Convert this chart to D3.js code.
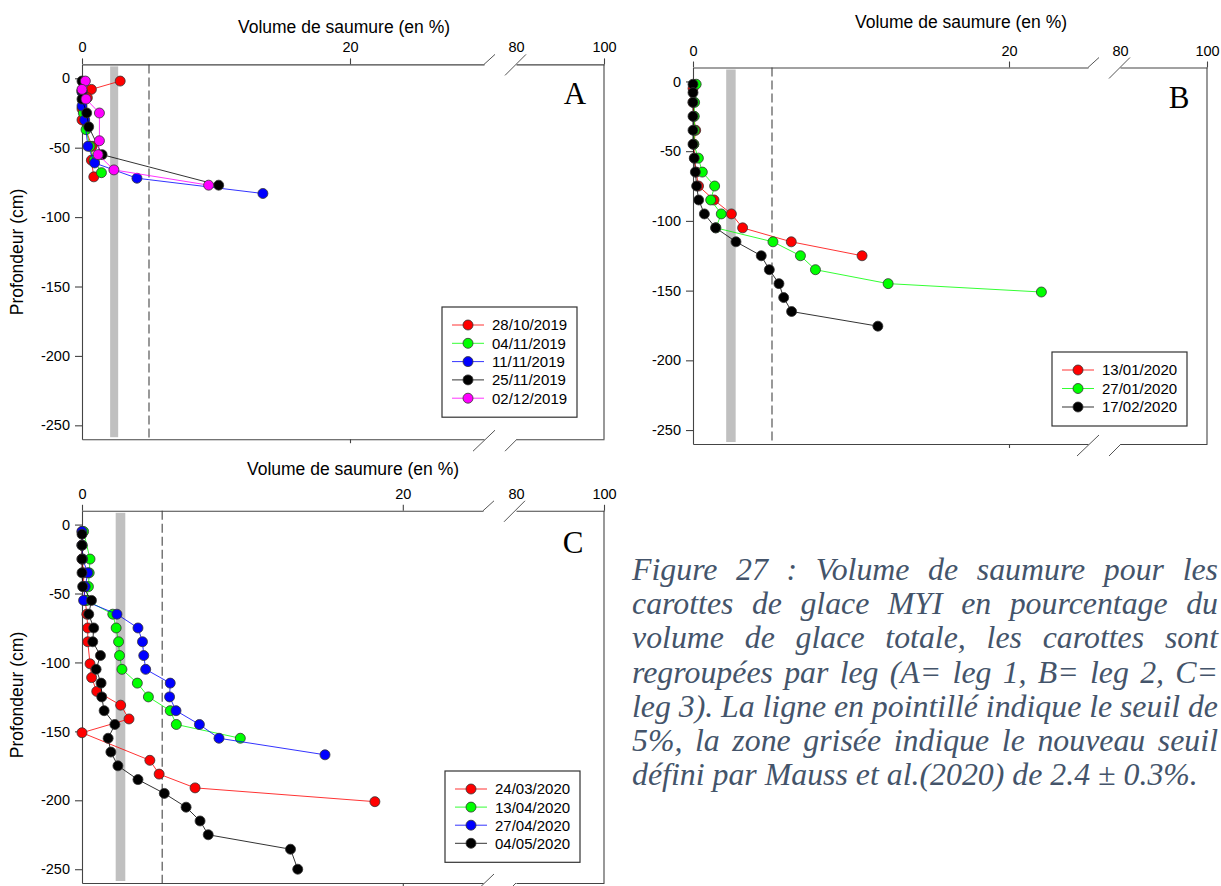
<!DOCTYPE html>
<html>
<head>
<meta charset="utf-8">
<script src="https://cdn.jsdelivr.net/npm/d3@7"></script>
<style>
  body { margin: 0; background: #fff; }
  svg { display: block; font-family: "Liberation Sans", Arial, sans-serif; }
</style>
</head>
<body>
<svg id="fig" width="1221" height="886"></svg>
<script>
// [volume de saumure %, profondeur cm]

// leg 1 (A)
const a_28_10_2019 = [[2.85,-2],[0.7,-8],[0.4,-14],[0,-22],[0,-30],[0.75,-49],[0.7,-59],[0.88,-71]];
const a_04_11_2019 = [[0.1,-3],[0,-9],[0.05,-16],[0.1,-25],[0.3,-37],[0.6,-49],[0.9,-59],[1.45,-68]];
const a_11_11_2019 = [[0,-10],[0,-20],[0.2,-30],[0.44,-49],[0.94,-61],[4.1,-72],[13.5,-83]];
const a_25_11_2019 = [[0,-2],[0,-9],[0,-15],[0.35,-25],[0.5,-35],[1.5,-55],[10.2,-77]];
const a_02_12_2019 = [[0.25,-2],[0,-8],[0.3,-15],[1.3,-25],[1.3,-45],[1.2,-55],[2.38,-66],[9.45,-77]];

// leg 2 (B)
const b_13_01_2020 = [[0,-5],[0,-15],[0.05,-25],[0.17,-35],[0.05,-45],[0.1,-55],[0.2,-65],[0.35,-75],[1.33,-85],[2.43,-95],[3.14,-105],[6.22,-115],[10.7,-125]];
const b_27_01_2020 = [[0.2,-2],[0.1,-15],[0.08,-25],[0.1,-35],[0.05,-45],[0.34,-55],[0.59,-65],[1.37,-75],[1.12,-85],[1.79,-95],[1.45,-105],[5.06,-115],[6.8,-125],[7.75,-135],[12.35,-145],[22.05,-151]];
const b_17_02_2020 = [[0,-2],[0,-8],[0,-15],[0,-25],[0,-35],[0,-45],[0.08,-55],[0.15,-65],[0.23,-75],[0.36,-85],[0.72,-95],[1.43,-105],[2.72,-115],[4.32,-125],[4.83,-135],[5.44,-145],[5.74,-155],[6.24,-165],[11.7,-175.5]];

// leg 3 (C)
const c_24_03_2020 = [[0,-5],[0,-15],[0,-25],[0.1,-35],[0.1,-45],[0.2,-55],[0.3,-65],[0.36,-75],[0.36,-85],[0.5,-101],[0.6,-111],[0.92,-121],[2.41,-131],[2.93,-141],[0,-151],[4.23,-171],[4.81,-181],[7.05,-191],[18.26,-201]];
const c_13_04_2020 = [[0.1,-5],[0.5,-25],[0.45,-35],[0.4,-45],[0.3,-55],[1.92,-65],[2.13,-75],[2.28,-85],[2.34,-95],[2.49,-105],[3.45,-115],[4.14,-125],[5.5,-135],[5.88,-145],[9.87,-155]];
const c_27_04_2020 = [[0,-5],[0,-15],[0.04,-25],[0.36,-35],[0.2,-45],[0.1,-55],[2.18,-65],[3.49,-75],[3.77,-85],[3.85,-95],[3.97,-105],[5.5,-115],[5.46,-125],[5.86,-135],[7.32,-145],[8.54,-155],[15.15,-167]];
const c_04_05_2020 = [[0,-7],[0,-15],[0,-25],[0,-35],[0.04,-45],[0.59,-55],[0.42,-65],[0.73,-75],[0.67,-85],[1.15,-95],[0.88,-105],[1.19,-115],[1.23,-125],[1.38,-135],[2.05,-145],[1.63,-155],[1.8,-165],[2.24,-175],[3.49,-185],[5.13,-195],[6.49,-205],[7.36,-215],[7.87,-225],[13.0,-235.5],[13.45,-250]];

const datesA = ["28/10/2019", "04/11/2019", "11/11/2019", "25/11/2019", "02/12/2019"];
const datesB = ["13/01/2020", "27/01/2020", "17/02/2020"];
const datesC = ["24/03/2020", "13/04/2020", "27/04/2020", "04/05/2020"];

const xTicksLow = [0, 20];
const xTicksHigh = [80, 100];
const yTicks = [0, -50, -100, -150, -200, -250];
const seuil = 5;
const nouveauSeuil = [2.1, 2.7]; // 2.4 +/- 0.3

const captionLines = [
  "Figure 27 : Volume de saumure pour les",
  "carottes de glace MYI en pourcentage du",
  "volume de glace totale, les carottes sont",
  "regroupées par leg (A= leg 1, B= leg 2, C=",
  "leg 3). La ligne en pointillé indique le seuil de",
  "5%, la zone grisée indique le nouveau seuil",
  "défini par Mauss et al.(2020) de 2.4 ± 0.3%."
];

const colA = ["#ff0000", "#00ff00", "#0000ff", "#000000", "#ff00ff"];
const colB = ["#ff0000", "#00ff00", "#000000"];
const colC = ["#ff0000", "#00ff00", "#0000ff", "#000000"];

const svg = d3.select("#fig");

const panels = [
  { letter: "A", series: [a_28_10_2019, a_04_11_2019, a_11_11_2019, a_25_11_2019, a_02_12_2019], dates: datesA, colors: colA,
    left: 82, right: 604, top: 64.4, bottom: 439.2, brk: 30, xBreak: 484, x2Start: 516,
    titleX: 344, titleY: 27, letterX: 575, letterY: 93, ylab: [17, 252], legend: [442, 307, 18.3] },
  { letter: "B", series: [b_13_01_2020, b_27_01_2020, b_17_02_2020], dates: datesB, colors: colB,
    left: 693, right: 1207, top: 67.5, bottom: 444, brk: 25, xBreak: 1088, x2Start: 1120,
    titleX: 961, titleY: 22, letterX: 1179, letterY: 97, ylab: null, legend: [1052, 352, 18.5] },
  { letter: "C", series: [c_24_03_2020, c_13_04_2020, c_27_04_2020, c_04_05_2020], dates: datesC, colors: colC,
    left: 82, right: 604, top: 510.8, bottom: 883, brk: 25, xBreak: 483, x2Start: 516,
    titleX: 353, titleY: 469, letterX: 573, letterY: 542, ylab: [17, 695], legend: [445, 771, 18.1] }
];

const axisCol = "#444";

panels.forEach(p => {
  const g = svg.append("g");
  const xs1 = d3.scaleLinear().domain([0, p.brk]).range([p.left, p.xBreak]);
  const xs2 = d3.scaleLinear().domain([80, 100]).range([p.x2Start, p.right]);
  const x = v => v <= p.brk ? xs1(v) : xs2(v);
  const y = d3.scaleLinear().domain([10, -260]).range([p.top, p.bottom]);

  // grey zone + dashed 5% line
  g.append("rect")
    .attr("x", x(nouveauSeuil[0])).attr("width", x(nouveauSeuil[1]) - x(nouveauSeuil[0]))
    .attr("y", p.top + 2).attr("height", p.bottom - p.top - 4)
    .attr("fill", "#c0c0c0");
  g.append("line")
    .attr("x1", x(seuil)).attr("x2", x(seuil))
    .attr("y1", p.top).attr("y2", p.bottom)
    .attr("stroke", "#555").attr("stroke-width", 1.2)
    .attr("stroke-dasharray", "9,4");

  // top axis (two pieces)
  const fmt = d => String(d);
  const top1 = g.append("g").attr("transform", `translate(0,${p.top})`)
    .call(d3.axisTop(xs1).tickValues(xTicksLow).tickSize(6).tickSizeOuter(0).tickPadding(6).tickFormat(fmt));
  const top2 = g.append("g").attr("transform", `translate(0,${p.top})`)
    .call(d3.axisTop(xs2).tickValues(xTicksHigh).tickSize(6).tickSizeOuter(0).tickPadding(6).tickFormat(fmt));
  top2.selectAll(".tick").filter(d => d === 80).select("line").remove();

  // bottom axis (two pieces)
  const bot1 = g.append("g").attr("transform", `translate(0,${p.bottom})`)
    .call(d3.axisBottom(xs1).tickValues([20]).tickSize(4).tickSizeOuter(0).tickFormat(""));
  const bot2 = g.append("g").attr("transform", `translate(0,${p.bottom})`)
    .call(d3.axisBottom(xs2).tickValues([]).tickSizeOuter(0));

  // left axis
  const yl = g.append("g").attr("transform", `translate(${p.left},0)`)
    .call(d3.axisLeft(y).tickValues(yTicks).tickSize(7).tickSizeOuter(0).tickPadding(5).tickFormat(fmt));

  [top1, top2, bot1, bot2, yl].forEach(a => {
    a.attr("font-family", null);
    a.selectAll("path, line").attr("stroke", axisCol).attr("stroke-width", 1.1);
    a.selectAll("text").attr("font-size", 14.5).attr("fill", "#000");
  });

  // right frame
  g.append("line").attr("x1", p.right).attr("x2", p.right)
    .attr("y1", p.top).attr("y2", p.bottom)
    .attr("stroke", axisCol).attr("stroke-width", 1.1);

  // axis break marks
  const bx = p.xBreak;
  const brk = [
    [bx, p.top, bx + 11, p.top - 10],
    [bx + 21, p.top + 11, bx + 42, p.top - 10],
    [bx - 11, p.bottom + 12, bx + 11, p.bottom - 9],
    [bx + 21, p.bottom + 12, bx + 33, p.bottom]
  ];
  g.selectAll(".brk").data(brk).join("line")
    .attr("x1", d => d[0]).attr("y1", d => d[1])
    .attr("x2", d => d[2]).attr("y2", d => d[3])
    .attr("stroke", "#555").attr("stroke-width", 1);

  // titles
  g.append("text").attr("x", p.titleX).attr("y", p.titleY).attr("dy", "0.35em")
    .attr("text-anchor", "middle").attr("font-size", 17.5)
    .text("Volume de saumure (en %)");
  if (p.ylab) {
    g.append("text")
      .attr("transform", `translate(${p.ylab[0]},${p.ylab[1]}) rotate(-90)`)
      .attr("dy", "0.35em").attr("text-anchor", "middle").attr("font-size", 17.5)
      .text("Profondeur (cm)");
  }
  g.append("text").attr("x", p.letterX).attr("y", p.letterY).attr("dy", "0.35em")
    .attr("text-anchor", "middle").attr("font-size", 31)
    .style("font-family", "'Liberation Serif', 'Times New Roman', serif")
    .text(p.letter);

  // series
  const line = d3.line().x(d => x(d[0])).y(d => y(d[1]));
  p.series.forEach((s, i) => {
    g.append("path").datum(s)
      .attr("d", line).attr("fill", "none")
      .attr("stroke", p.colors[i]).attr("stroke-opacity", 0.8).attr("stroke-width", 1);
    g.selectAll(null).data(s).join("circle")
      .attr("cx", d => x(d[0])).attr("cy", d => y(d[1])).attr("r", 5)
      .attr("fill", p.colors[i]).attr("stroke", "#333").attr("stroke-width", 0.8);
  });

  // legend
  const [lx, ly, step] = p.legend;
  const n = p.dates.length;
  g.append("rect").attr("x", lx).attr("y", ly).attr("width", 135)
    .attr("height", 37 + (n - 1) * step)
    .attr("fill", "#fff").attr("stroke", "#333").attr("stroke-width", 1.2);
  p.dates.forEach((dt, i) => {
    const yy = ly + 18 + i * step;
    g.append("line").attr("x1", lx + 10).attr("x2", lx + 42).attr("y1", yy).attr("y2", yy)
      .attr("stroke", p.colors[i]).attr("stroke-opacity", 0.8).attr("stroke-width", 1);
    g.append("circle").attr("cx", lx + 26).attr("cy", yy).attr("r", 5)
      .attr("fill", p.colors[i]).attr("stroke", "#333").attr("stroke-width", 0.8);
    g.append("text").attr("x", lx + 50).attr("y", yy).attr("dy", "0.36em")
      .attr("font-size", 15).text(dt);
  });
});

// caption, justified
const capX0 = 632, capX1 = 1218, capY0 = 580, capStep = 34.2;
const capFont = "'Liberation Serif', 'Times New Roman', serif";
const cap = svg.append("g").attr("fill", "#44546a");
const capText = () => cap.append("text")
  .style("font-family", capFont).style("font-style", "italic");

const probe = capText().attr("font-size", 28).text(captionLines[captionLines.length - 1]);
let fs = 28 * 566 / probe.node().getComputedTextLength();
fs = Math.max(24, Math.min(33, fs));
probe.remove();

captionLines.forEach((ln, i) => {
  const yy = capY0 + i * capStep;
  const words = ln.split(" ");
  const t = capText().attr("y", yy).attr("font-size", fs);
  if (i === captionLines.length - 1) {
    t.attr("x", capX0).text(ln);
    return;
  }
  const widths = words.map(w => {
    const tmp = capText().attr("font-size", fs).text(w);
    const wd = tmp.node().getComputedTextLength();
    tmp.remove();
    return wd;
  });
  const gap = (capX1 - capX0 - d3.sum(widths)) / (words.length - 1);
  let cx = capX0;
  words.forEach((w, j) => {
    t.append("tspan").attr("x", cx).text(w);
    cx += widths[j] + gap;
  });
});
</script>
</body>
</html>
